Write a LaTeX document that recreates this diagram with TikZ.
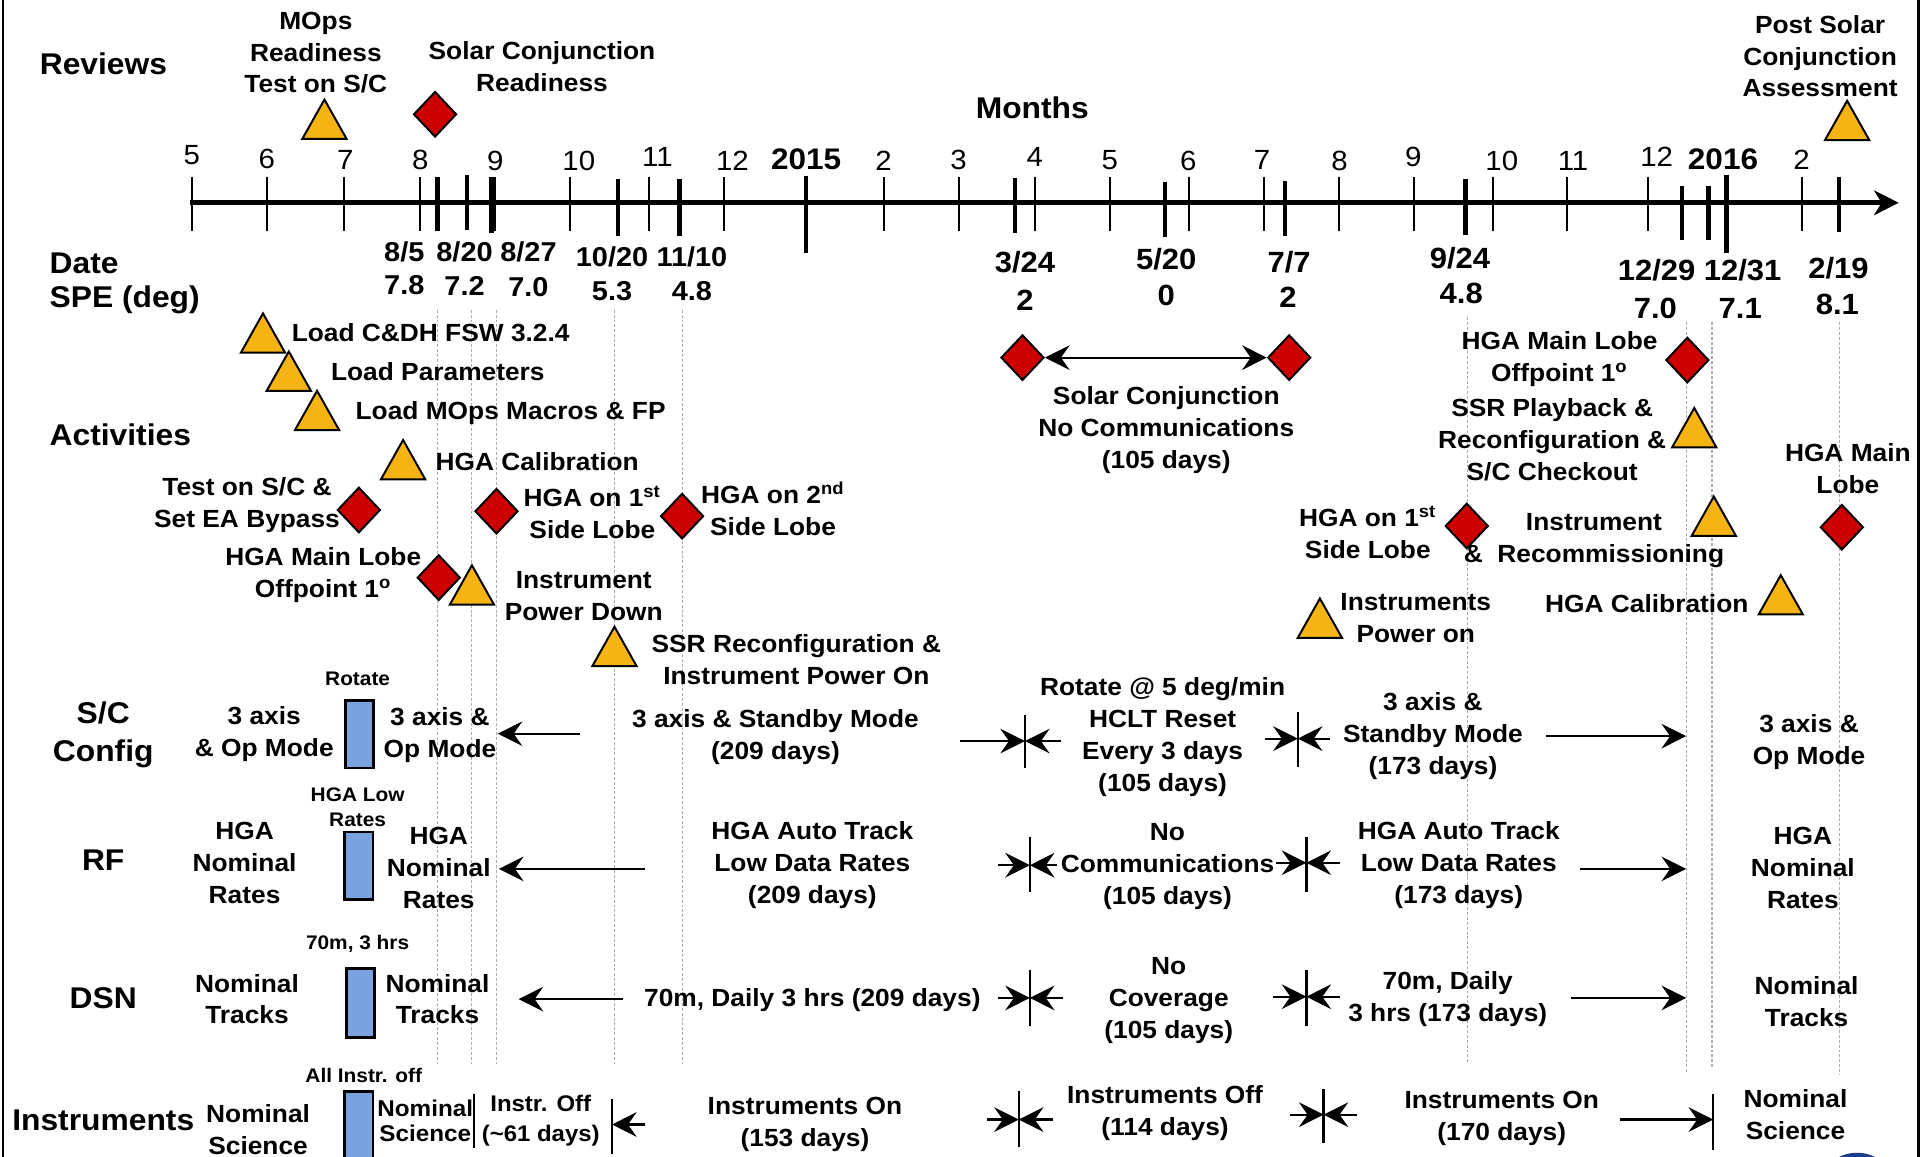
\documentclass[tikz,border=0pt]{standalone}
\usepackage{fontspec}
\setmainfont{Liberation Sans}[FakeStretch=1.06]
\usetikzlibrary{shapes.geometric,arrows.meta}
\definecolor{dred}{RGB}{204,0,0}
\definecolor{tyel}{RGB}{245,180,20}
\definecolor{bbl}{RGB}{122,162,222}
\definecolor{logo}{RGB}{30,60,140}
\begin{document}
\begin{tikzpicture}[x=0.5pt,y=-0.5pt,
  lbl/.style={font=\fontsize{10.1}{13}\selectfont\bfseries, align=center, inner sep=0pt},
  sml/.style={font=\fontsize{8}{10}\selectfont\bfseries, align=center, inner sep=0pt},
  sec/.style={font=\fontsize{12.2}{15.5}\selectfont\bfseries, align=center, inner sep=0pt},
  mon/.style={font=\fontsize{11.3}{13}\selectfont, inner sep=0pt},
  yr/.style={font=\fontsize{12.1}{14}\selectfont\bfseries, inner sep=0pt},
  dtl/.style={font=\fontsize{11.1}{14}\selectfont\bfseries, inner sep=0pt},
  dtr/.style={font=\fontsize{11.9}{14}\selectfont\bfseries, inner sep=0pt},
  dia/.style={diamond, draw=black, line width=0.8pt, fill=dred, minimum width=17.5pt, minimum height=18.5pt, inner sep=0pt},
  bbox/.style={rectangle, draw=black, line width=1.1pt, fill=bbl, minimum width=11.5pt, inner sep=0pt},
  guide/.style={draw=gray!65, line width=0.45pt, dash pattern=on 1.2pt off 0.8pt},
  arr/.style={line width=0.9pt, -{Stealth[length=10pt,width=10pt,inset=3.5pt]}},
  darr/.style={line width=0.9pt, {Stealth[length=10pt,width=10pt,inset=3.5pt]}-{Stealth[length=10pt,width=10pt,inset=3.5pt]}},
  bar/.style={line width=0.9pt},
  mtick/.style={line width=0.75pt},
  dtick/.style={line width=1.8pt},
  tripic/.pic={\draw[line width=0.8pt, fill=tyel, line join=miter] (-18,0) -- (18,0) -- (0,-32) -- cycle;},
]
\clip (0,0) rectangle (1568,941);
\fill[white] (0,0) rectangle (1568,941);

% frame
\draw[line width=1pt] (2.5,-5) -- (2.5,950);
\draw[line width=1pt] (1561,-5) -- (1561,950);

% guide lines
\foreach \x/\ya/\yb in {356/252/866, 384/252/866, 404/252/866, 500/252/866, 555/252/866, 1194/258/866, 1372/262/872, 1393/262/869, 1497/262/875}
  \draw[guide] (\x,\ya) -- (\x,\yb);

% axis
\coordinate (ax0) at (155,165);
\coordinate (ax1) at (1545,165);
\draw[line width=2pt, -{Stealth[length=10pt,width=10pt,inset=3pt]}] (ax0) -- (ax1);
\foreach \x in {156,217,280,342,403,464,528,589,719,780,842,903.5,967.7,1028.5,1089.7,1150.4,1214.6,1275.3,1341.1,1466}
  \draw[mtick] (\x,144) -- (\x,188);
\foreach \x/\ya/\yb in {356/144/188, 380/142/187, 400/144/190, 503/146/192, 553/146/192, 826/145/190, 948/148/193, 1045.5/147/192, 1192.5/146/191, 1368.7/151/195, 1390.2/151/195, 1496.6/144/189, 656/143/206, 1405/142/206}
  \draw[dtick] (\x,\ya) -- (\x,\yb);

% month labels
\node[mon] (m1) at (156,126) {5};
\node[mon] (m2) at (217,129) {6};
\node[mon] (m3) at (281,130) {7};
\node[mon] (m4) at (342,130) {8};
\node[mon] (m5) at (403,131) {9};
\node[mon] (m6) at (471,131) {10};
\node[mon] (m7) at (535,128) {11};
\node[mon] (m8) at (596,131) {12};
\node[yr]  (y15) at (656,130) {2015};
\node[mon] (m9) at (719,131) {2};
\node[mon] (m10) at (780,130) {3};
\node[mon] (m11) at (842,128) {4};
\node[mon] (m12) at (903,130) {5};
\node[mon] (m13) at (967,131) {6};
\node[mon] (m14) at (1027,130) {7};
\node[mon] (m15) at (1090,131) {8};
\node[mon] (m16) at (1150,128) {9};
\node[mon] (m17) at (1222,131) {10};
\node[mon] (m18) at (1280,131) {11};
\node[mon] (m19) at (1348,128) {12};
\node[yr]  (y16) at (1402,130) {2016};
\node[mon] (m20) at (1466,130) {2};

% date / SPE labels
\node[dtl] (d1) at (329,205) {8/5};
\node[dtl] (s1) at (329,232) {7.8};
\node[dtl] (d2) at (378,205) {8/20};
\node[dtl] (s2) at (378,233) {7.2};
\node[dtl] (d3) at (430,205) {8/27};
\node[dtl] (s3) at (430,234) {7.0};
\node[dtl] (d4) at (498,209) {10/20};
\node[dtl] (s4) at (498,237) {5.3};
\node[dtl] (d5) at (563,209) {11/10};
\node[dtl] (s5) at (563,237) {4.8};
\node[dtr] (d6) at (834,213) {3/24};
\node[dtr] (s6) at (834,244) {2};
\node[dtr] (d7) at (949,211) {5/20};
\node[dtr] (s7) at (949,240) {0};
\node[dtr] (d8) at (1049,213) {7/7};
\node[dtr] (s8) at (1048,242) {2};
\node[dtr] (d9) at (1188,210) {9/24};
\node[dtr] (s9) at (1189,239) {4.8};
\node[dtr] (d10) at (1348,220) {12/29};
\node[dtr] (s10) at (1347,251) {7.0};
\node[dtr] (d11) at (1418,220) {12/31};
\node[dtr] (s11) at (1416,251) {7.1};
\node[dtr] (d12) at (1496,218) {2/19};
\node[dtr] (s12) at (1495,248) {8.1};

% section labels
\node[sec, anchor=west] (secRev) at (32,52) {Reviews};
\node[sec] (secMon) at (840,88) {Months};
\node[sec, anchor=west] (secDate) at (40,214) {Date};
\node[sec, anchor=west] (secSPE) at (40,244) {SPE (deg)};
\node[sec, anchor=west] (secAct) at (40,354) {Activities};
\node[sec] (secSC) at (84,598) {S/C\\Config};
\node[sec] (secRF) at (84,700) {RF};
\node[sec] (secDSN) at (84,812) {DSN};
\node[sec] (secIns) at (84,912) {Instruments};

% reviews
\node[lbl, font=\fontsize{10.1}{12.8}\selectfont\bfseries] (rv1) at (257,43) {MOps\\Readiness\\Test on S/C};
\pic at (264,113) {tripic};
\node[lbl] (rv2) at (441,54) {Solar Conjunction\\Readiness};
\node[dia] (rvd) at (354,93) {};
\node[lbl, font=\fontsize{10.1}{12.8}\selectfont\bfseries] (rv3) at (1481,46) {Post Solar\\Conjunction\\Assessment};
\pic at (1503,114) {tripic};

% activities (left)
\pic at (214,287) {tripic};
\node[lbl, anchor=west] (a1) at (237,271) {Load C\&DH FSW 3.2.4};
\pic at (235,318) {tripic};
\node[lbl, anchor=west] (a2) at (269,302) {Load Parameters};
\pic at (258,350) {tripic};
\node[lbl, anchor=west] (a3) at (289,336) {Load MOps Macros \& FP};
\pic at (328,390) {tripic};
\node[lbl, anchor=west] (a4) at (354,376) {HGA Calibration};
\node[dia] (ad1) at (292,415) {};
\node[lbl] (a5) at (201,411) {Test on S/C \&\\Set EA Bypass};
\node[dia] (ad2) at (404,416) {};
\node[lbl] (a6) at (482,417) {HGA on 1\textsuperscript{st}\\Side Lobe};
\node[dia] (ad3) at (555,420) {};
\node[lbl] (a7) at (629,414) {HGA on 2\textsuperscript{nd}\\Side Lobe};
\node[dia] (ad4) at (357,470) {};
\node[lbl] (a8) at (263,468) {HGA Main Lobe\\Offpoint 1\textsuperscript{o}};
\pic at (384,492) {tripic};
\node[lbl] (a9) at (475,485) {Instrument\\Power Down};
\pic at (500,542) {tripic};
\node[lbl] (a10) at (648,537) {SSR Reconfiguration \&\\Instrument Power On};

% solar conjunction
\node[dia] (sc1) at (832,291) {};
\node[dia] (sc2) at (1049,291) {};
\draw[darr] (sc1.east) -- (sc2.west);
\node[lbl] (a11) at (949,350) {Solar Conjunction\\No Communications\\(105 days)};

% activities (right)
\node[lbl] (a12) at (1269,292) {HGA Main Lobe\\Offpoint 1\textsuperscript{o}};
\node[dia] (ad5) at (1373,293) {};
\node[lbl] (a13) at (1263,358) {SSR Playback \&\\Reconfiguration \&\\S/C Checkout};
\pic at (1378.6,364) {tripic};
\node[lbl] (a14) at (1503.6,381) {HGA Main\\Lobe};
\node[dia] (ad6) at (1498.7,429) {};
\node[lbl] (a15) at (1113,433) {HGA on 1\textsuperscript{st}\\Side Lobe};
\node[dia] (ad7) at (1193.5,428) {};
\node[lbl] (a16) at (1297,440) {Instrument\\\&~~Recommissioning};
\pic at (1394.5,436) {tripic};
\node[lbl] (a17) at (1152,503) {Instruments\\Power on};
\pic at (1074,519) {tripic};
\node[lbl] (a18) at (1340,491) {HGA Calibration};
\pic at (1449,500) {tripic};

% ---------- S/C Config row
\node[sml] (r1) at (291,552) {Rotate};
\node[bbox, minimum height=27.5pt] (b1) at (292.5,597.5) {};
\node[lbl] (c1) at (215,597) {3 axis\\\& Op Mode};
\node[lbl] (c2) at (358,598) {3 axis \&\\Op Mode};
\coordinate (c2a) at (472,597); \coordinate (c2b) at (405,597);
\draw[arr] (c2a) -- (c2b);
\node[lbl] (c3) at (631,600) {3 axis \& Standby Mode\\(209 days)};
\coordinate (pA) at (834,603); \coordinate (pAl) at (781,603); \coordinate (pAr) at (863,603);
\draw[bar] (pA) ++(0,-21) -- ++(0,43);
\draw[arr] (pAl) -- (pA); \draw[arr] (pAr) -- (pA);
\node[lbl] (c4) at (946,600) {Rotate @ 5 deg/min\\HCLT Reset\\Every 3 days\\(105 days)};
\coordinate (pB) at (1056,601); \coordinate (pBl) at (1029,601); \coordinate (pBr) at (1082,601);
\draw[bar] (pB) ++(0,-22) -- ++(0,45);
\draw[arr] (pBl) -- (pB); \draw[arr] (pBr) -- (pB);
\node[lbl] (c5) at (1166,599) {3 axis \&\\Standby Mode\\(173 days)};
\coordinate (c5a) at (1258,599); \coordinate (c5b) at (1372,599);
\draw[arr] (c5a) -- (c5b);
\node[lbl] (c6) at (1472,604) {3 axis \&\\Op Mode};

% ---------- RF row
\node[sml] (r2) at (291,657) {HGA Low\\Rates};
\node[bbox, minimum height=27.5pt] (b2) at (292,704.5) {};
\node[lbl] (f1) at (199,702) {HGA\\Nominal\\Rates};
\node[lbl] (f2) at (357,706) {HGA\\Nominal\\Rates};
\coordinate (f2a) at (525,707); \coordinate (f2b) at (406,707);
\draw[arr] (f2a) -- (f2b);
\node[lbl] (f3) at (661,704) {HGA Auto Track\\Low Data Rates\\(209 days)};
\coordinate (pC) at (838,704); \coordinate (pCl) at (812,704); \coordinate (pCr) at (860,704);
\draw[bar] (pC) ++(0,-23) -- ++(0,45);
\draw[arr] (pCl) -- (pC); \draw[arr] (pCr) -- (pC);
\node[lbl] (f4) at (950,705) {No\\Communications\\(105 days)};
\coordinate (pD) at (1063,702); \coordinate (pDl) at (1038,702); \coordinate (pDr) at (1090,702);
\draw[bar] (pD) ++(0,-21) -- ++(0,45);
\draw[arr] (pDl) -- (pD); \draw[arr] (pDr) -- (pD);
\node[lbl] (f5) at (1187,704) {HGA Auto Track\\Low Data Rates\\(173 days)};
\coordinate (f5a) at (1286,707); \coordinate (f5b) at (1372,707);
\draw[arr] (f5a) -- (f5b);
\node[lbl] (f6) at (1467,706) {HGA\\Nominal\\Rates};

% ---------- DSN row
\node[sml] (r3) at (291,768) {70m, 3 hrs};
\node[bbox, minimum height=28pt] (b3) at (293.5,816) {};
\node[lbl] (n1) at (201,813) {Nominal\\Tracks};
\node[lbl] (n2) at (356,813) {Nominal\\Tracks};
\coordinate (n2a) at (507,813); \coordinate (n2b) at (422,813);
\draw[arr] (n2a) -- (n2b);
\node[lbl] (n3) at (661,814) {70m, Daily 3 hrs (209 days)};
\coordinate (pE) at (838,812); \coordinate (pEl) at (812,812); \coordinate (pEr) at (865,812);
\draw[bar] (pE) ++(0,-23) -- ++(0,46);
\draw[arr] (pEl) -- (pE); \draw[arr] (pEr) -- (pE);
\node[lbl] (n4) at (951,814) {No\\Coverage\\(105 days)};
\coordinate (pF) at (1063,811); \coordinate (pFl) at (1036,811); \coordinate (pFr) at (1090,811);
\draw[bar] (pF) ++(0,-22) -- ++(0,46);
\draw[arr] (pFl) -- (pF); \draw[arr] (pFr) -- (pF);
\node[lbl] (n5) at (1178,813) {70m, Daily\\3 hrs (173 days)};
\coordinate (n5a) at (1278,812); \coordinate (n5b) at (1372,812);
\draw[arr] (n5a) -- (n5b);
\node[lbl] (n6) at (1470,815) {Nominal\\Tracks};

% ---------- Instruments row
\node[sml] (r4) at (296,875) {All Instr. off};
\node[bbox, minimum height=36pt] (b4) at (292,924) {};
\node[lbl] (i1) at (210,919) {Nominal\\Science};
\node[lbl, font=\fontsize{9.3}{10.5}\selectfont\bfseries] (i2) at (346,912) {Nominal\\Science};
\coordinate (v1) at (386,890);
\draw[bar] (v1) -- ++(0,44);
\node[lbl, font=\fontsize{9.2}{12}\selectfont\bfseries] (i3) at (440,912) {Instr. Off\\(\textasciitilde61 days)};
\coordinate (v2) at (498,894);
\draw[bar] (v2) -- ++(0,45);
\coordinate (i3a) at (525,915); \coordinate (i3b) at (498,915);
\draw[arr] (i3a) -- (i3b);
\node[lbl] (i4) at (655,915) {Instruments On\\(153 days)};
\coordinate (pG) at (829,911); \coordinate (pGl) at (803,911); \coordinate (pGr) at (857,911);
\draw[bar] (pG) ++(0,-23) -- ++(0,45);
\draw[arr] (pGl) -- (pG); \draw[arr] (pGr) -- (pG);
\node[lbl] (i5) at (948,906) {Instruments Off\\(114 days)};
\coordinate (pH) at (1077,907); \coordinate (pHl) at (1050,907); \coordinate (pHr) at (1104,907);
\draw[bar] (pH) ++(0,-21) -- ++(0,44);
\draw[arr] (pHl) -- (pH); \draw[arr] (pHr) -- (pH);
\node[lbl] (i6) at (1222,910) {Instruments On\\(170 days)};
\coordinate (v3) at (1394,911);
\draw[bar] (v3) ++(0,-21) -- ++(0,46);
\coordinate (i6a) at (1318,911);
\draw[arr] (i6a) -- (v3);
\node[lbl] (i7) at (1461,907) {Nominal\\Science};

% logo fragment
\fill[logo] (1511,958) ellipse [x radius=26, y radius=20];
\end{tikzpicture}
\end{document}
